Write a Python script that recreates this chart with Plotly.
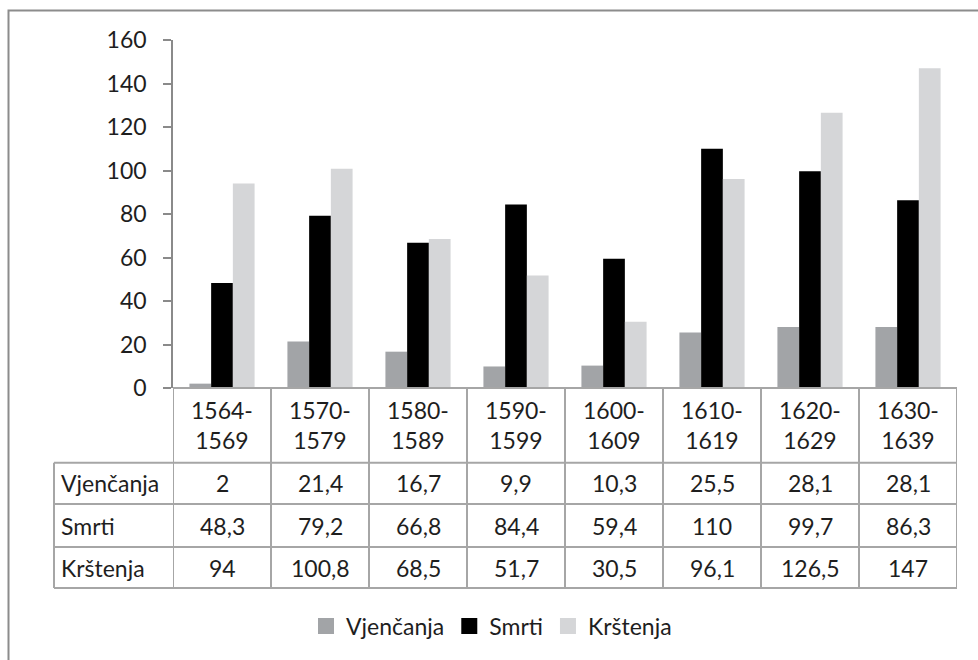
import plotly.graph_objects as go

# Decades of the parish registers and yearly averages per series
periods = ["1564-1569", "1570-1579", "1580-1589", "1590-1599",
           "1600-1609", "1610-1619", "1620-1629", "1630-1639"]
vjencanja = [2, 21.4, 16.7, 9.9, 10.3, 25.5, 28.1, 28.1]
smrti = [48.3, 79.2, 66.8, 84.4, 59.4, 110, 99.7, 86.3]
krstenja = [94, 100.8, 68.5, 51.7, 30.5, 96.1, 126.5, 147]

series_names = ["Vjenčanja", "Smrti", "Krštenja"]
series_values = [vjencanja, smrti, krstenja]
series_colors = ["#a2a4a7", "#000000", "#d5d6d8"]
y_ticks = [0, 20, 40, 60, 80, 100, 120, 140, 160]

FONT = "Lato"
TXT = "#1e1e1e"
GRID = "#a6a6a6"
FS = 23

W, H = 978, 660
L, R, T, B = 173, 21, 40, 272
plot_w = W - L - R
plot_h = H - T - B


def py(px):
    """pixel row -> paper y"""
    return (H - B - px) / plot_h


def pxp(px):
    """pixel column -> paper x"""
    return (px - L) / plot_w


fig = go.Figure()
xs = list(range(len(periods)))
for name, vals, col in zip(series_names, series_values, series_colors):
    fig.add_trace(go.Bar(x=xs, y=vals, name=name, marker_color=col,
                         marker_line_width=0, legendgroup=name, showlegend=False))
# legend keys as larger square swatches
for name, col in zip(series_names, series_colors):
    fig.add_trace(go.Scatter(x=[None], y=[None], mode="markers", name=name,
                             legendgroup=name,
                             marker=dict(symbol="square", size=16, color=col,
                                         line=dict(width=0))))

shapes = []
annotations = []
n = len(periods)

# data table rows (paper y of boundaries)
row_edges = [py(388), py(462.7), py(504), py(547), py(588)]
label_left = pxp(54)

# horizontal table lines
shapes.append(dict(type="line", xref="x", yref="paper", x0=-0.5, x1=n - 0.5,
                   y0=row_edges[0], y1=row_edges[0],
                   line=dict(color=GRID, width=2)))
for yy in row_edges[1:]:
    shapes.append(dict(type="line", xref="paper", yref="paper",
                       x0=label_left, x1=1, y0=yy, y1=yy,
                       line=dict(color=GRID, width=2)))
# vertical table lines
for i in range(n + 1):
    shapes.append(dict(type="line", xref="x", yref="paper",
                       x0=i - 0.5, x1=i - 0.5, y0=row_edges[0], y1=row_edges[-1],
                       line=dict(color=GRID, width=2)))
shapes.append(dict(type="line", xref="paper", yref="paper",
                   x0=label_left, x1=label_left, y0=row_edges[1], y1=row_edges[-1],
                   line=dict(color=GRID, width=2)))

# outer chart frame
shapes.append(dict(type="rect", xref="paper", yref="paper",
                   x0=pxp(8.5), x1=pxp(1000), y0=py(10.5), y1=py(700),
                   line=dict(color="#8c8c8c", width=2), fillcolor="rgba(0,0,0,0)",
                   layer="below"))

# category header cells
for i, p in enumerate(periods):
    a, b = p.split("-")
    annotations.append(dict(xref="x", yref="paper", x=i,
                            y=(row_edges[0] + row_edges[1]) / 2,
                            text=f"{a}-<br>{b}", showarrow=False,
                            font=dict(family=FONT, size=FS, color=TXT),
                            xanchor="center", yanchor="middle"))

# value rows
for r, (name, vals) in enumerate(zip(series_names, series_values)):
    yc = (row_edges[r + 1] + row_edges[r + 2]) / 2
    annotations.append(dict(xref="paper", yref="paper", x=pxp(59), y=yc,
                            text=name, showarrow=False,
                            font=dict(family=FONT, size=FS, color=TXT),
                            xanchor="left", yanchor="middle"))
    for i, v in enumerate(vals):
        annotations.append(dict(xref="x", yref="paper", x=i, y=yc,
                                text=str(v).replace(".", ","), showarrow=False,
                                font=dict(family=FONT, size=FS, color=TXT),
                                xanchor="center", yanchor="middle"))

fig.update_layout(
    width=W, height=H,
    margin=dict(l=L, r=R, t=T, b=B, autoexpand=False),
    paper_bgcolor="white", plot_bgcolor="white",
    barmode="group", bargap=0.335, bargroupgap=0,
    font=dict(family=FONT, size=FS, color=TXT),
    shapes=shapes, annotations=annotations,
    showlegend=True,
    legend=dict(orientation="h", x=pxp(306), y=py(626), xanchor="left",
                yanchor="middle", font=dict(family=FONT, size=FS, color=TXT),
                bgcolor="rgba(0,0,0,0)", traceorder="normal",
                itemsizing="trace"),
    xaxis=dict(range=[-0.5, n - 0.5], showticklabels=False, ticks="",
               showgrid=False, zeroline=False, showline=False, fixedrange=True),
    yaxis=dict(range=[0, 160], tickvals=y_ticks, showgrid=False, zeroline=False,
               showline=True, linecolor="#8a8a8a", linewidth=1.5,
               ticks="outside", ticklen=8, tickcolor="#8a8a8a", tickwidth=1.5,
               ticklabelstandoff=12,
               tickfont=dict(family=FONT, size=FS, color=TXT)),
)

fig.write_html("out.html")
